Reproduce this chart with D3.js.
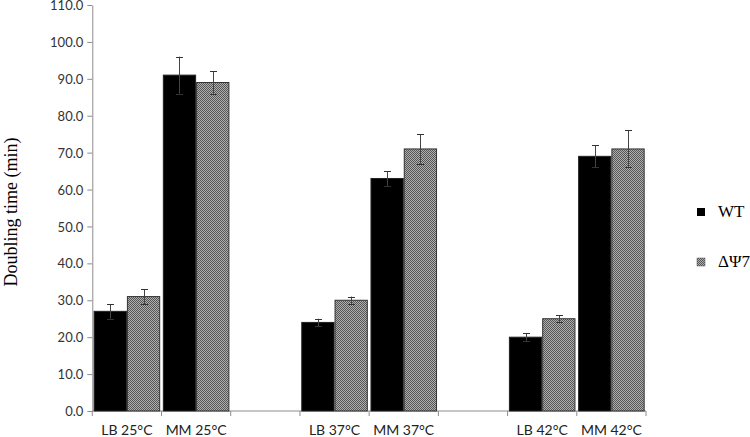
<!DOCTYPE html>
<html><head><meta charset="utf-8">
<script src="https://cdn.jsdelivr.net/npm/d3@7"></script>
<style>body{margin:0;background:#fff}</style>
</head><body>
<svg id="c" width="750" height="437"></svg>
<script>
const categories = ["LB 25°C","MM 25°C","","LB 37°C","MM 37°C","","LB 42°C","MM 42°C"];
const seriesNames = ["WT","ΔΨ7"];
const wtValues = [27,91,null,24,63,null,20,69];
const wtErrors = [2,5,null,1,2,null,1,3];
const dpValues = [31,89,null,30,71,null,25,71];
const dpErrors = [2,3,null,1,4,null,1,5];
const yTicks = [0,10,20,30,40,50,60,70,80,90,100,110];

const svg = d3.select("#c");
const defs = svg.append("defs");
const pat = defs.append("pattern").attr("id","chk").attr("width",2).attr("height",2).attr("patternUnits","userSpaceOnUse");
pat.append("rect").attr("width",2).attr("height",2).attr("fill","#b0b0b0");
pat.append("rect").attr("width",1).attr("height",1).attr("fill","#555");
pat.append("rect").attr("x",1).attr("y",1).attr("width",1).attr("height",1).attr("fill","#555");

const x0 = 92.3, x1 = 646, yTop = 5, yBot = 411;
const x = d3.scaleBand().domain(categories.map((c,i)=>i)).range([x0,x1]).paddingInner(0).paddingOuter(0);
const xs = d3.scaleBand().domain([0,1]).range([0,x.bandwidth()]).paddingOuter(0.04).paddingInner(0);
const y = d3.scaleLinear().domain([0,110]).range([yBot,yTop]);

const g = svg.append("g");
// y axis
const yAxis = d3.axisLeft(y).tickValues(yTicks).tickFormat(d3.format(".1f")).tickSize(5).tickSizeOuter(0);
const ya = g.append("g").attr("transform",`translate(${x0},0)`).call(yAxis);
ya.select(".domain").attr("stroke","#8c8c8c");
ya.selectAll(".tick line").attr("stroke","#8c8c8c");
ya.selectAll(".tick text").attr("font-family","Lato, sans-serif").attr("font-size",13).attr("fill","#333").attr("x",-9).attr("dy","0.35em");

// x axis
const xa = g.append("g").attr("transform",`translate(0,${yBot})`);
xa.append("line").attr("x1",x0).attr("x2",x1).attr("stroke","#8c8c8c");
const bounds = categories.map((c,i)=>x(i)).concat([x1]);
xa.selectAll("line.t").data(bounds).join("line").attr("class","t")
  .attr("x1",d=>d).attr("x2",d=>d).attr("y1",0).attr("y2",5).attr("stroke","#8c8c8c");
xa.selectAll("text").data(categories).join("text")
  .attr("x",(d,i)=>x(i)+x.bandwidth()/2).attr("y",24)
  .attr("text-anchor","middle").attr("font-family","Lato, sans-serif").attr("font-size",14).attr("fill","#222")
  .text(d=>d);

// bars
const series = [
  {name:seriesNames[0], vals:wtValues, errs:wtErrors, fill:"#000", stroke:"#222"},
  {name:seriesNames[1], vals:dpValues, errs:dpErrors, fill:"url(#chk)", stroke:"#333"}
];
series.forEach((s,si)=>{
  const gg = g.append("g");
  categories.forEach((c,i)=>{
    const v = s.vals[i]; if(v==null) return;
    const bx = x(i)+xs(si);
    gg.append("rect").attr("x",bx+0.5).attr("y",y(v)).attr("width",xs.bandwidth()-1).attr("height",y(0)-y(v))
      .attr("fill",s.fill).attr("stroke",s.stroke).attr("stroke-width",1);
  });
});
series.forEach((s,si)=>{
  const gg = g.append("g");
  categories.forEach((c,i)=>{
    const v = s.vals[i]; if(v==null) return;
    const e = s.errs[i];
    const cx = Math.round(x(i)+xs(si)+xs.bandwidth()/2)+0.5;
    gg.append("line").attr("x1",cx).attr("x2",cx).attr("y1",y(v+e)).attr("y2",y(v-e)).attr("stroke","#444").attr("stroke-width",1);
    [v+e,v-e].forEach(t=>gg.append("line").attr("x1",cx-3.5).attr("x2",cx+3.5).attr("y1",Math.round(y(t))+0.5).attr("y2",Math.round(y(t))+0.5).attr("stroke","#333").attr("stroke-width",1));
  });
});

// y title
svg.append("text").attr("transform","translate(17,212) rotate(-90)").attr("text-anchor","middle")
  .attr("font-family","Liberation Serif, Times New Roman, serif").attr("font-size",18).attr("fill","#000")
  .text("Doubling time (min)");

// legend
const leg = svg.append("g");
series.forEach((s,i)=>{
  const ly = 212 + i*50;
  leg.append("rect").attr("x",697).attr("y",ly-4).attr("width",8).attr("height",8).attr("fill",s.fill).attr("stroke",i?"#555":"none").attr("stroke-width",0.5);
  leg.append("text").attr("x",718).attr("y",ly+5).attr("font-family","Liberation Serif, Times New Roman, serif")
    .attr("font-size",17).attr("fill","#000").text(s.name);
});
</script>
</body></html>
